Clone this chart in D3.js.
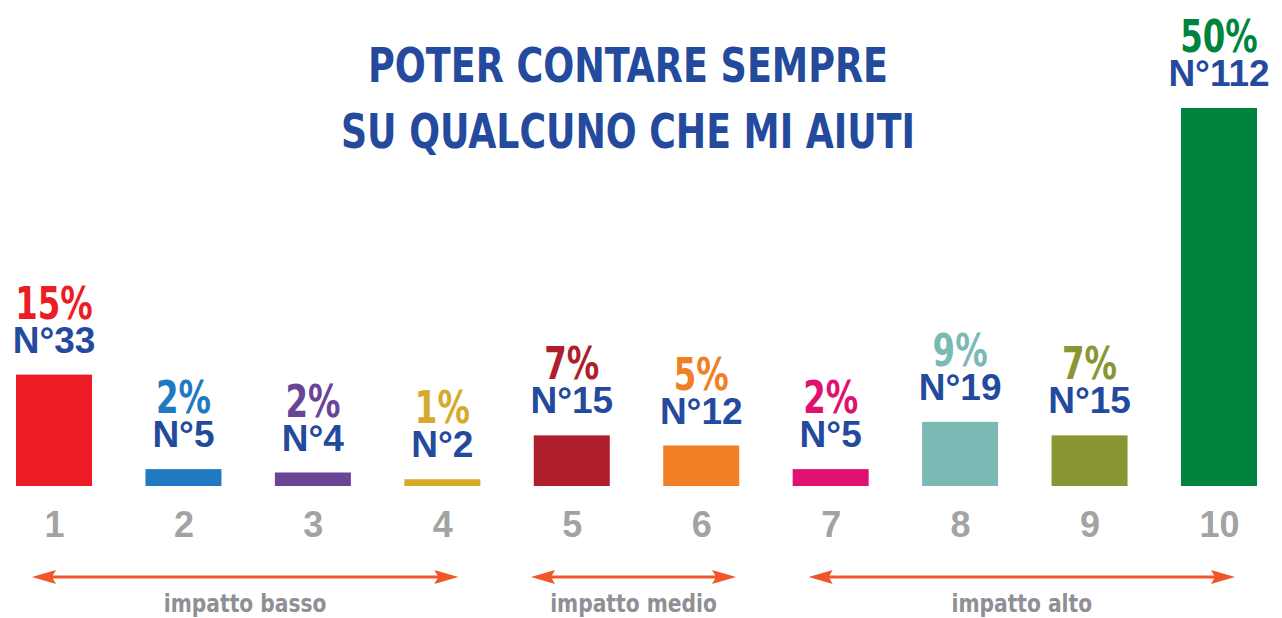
<!DOCTYPE html>
<html>
<head>
<meta charset="utf-8">
<script src="https://cdn.jsdelivr.net/npm/d3@7"></script>
<style>
  html, body { margin: 0; padding: 0; background: #fff; }
  svg { display: block; }
</style>
</head>
<body>
<svg id="chart" width="1282" height="618"></svg>
<script>
// Scale of 1-10: share of answers and number of respondents
const categories = ["1", "2", "3", "4", "5", "6", "7", "8", "9", "10"];
const percents   = [15, 2, 2, 1, 7, 5, 2, 9, 7, 50];
const counts     = [33, 5, 4, 2, 15, 12, 5, 19, 15, 112];
const barColors  = ["#ed1c24", "#2179c1", "#6a4596", "#d6aa2a", "#b01e2b",
                    "#f07f26", "#e0126f", "#7bb9b5", "#8a9633", "#00843d"];
const titleLines = ["POTER CONTARE SEMPRE", "SU QUALCUNO CHE MI AIUTI"];
const groupLabels = ["impatto basso", "impatto medio", "impatto alto"];
const groupFrom   = ["1", "5", "7"];
const groupTo     = ["4", "6", "10"];

const svg = d3.select("#chart");

const NARROW = "'Liberation Sans Narrow', 'DejaVu Sans Condensed', 'Arial Narrow', sans-serif";
const WIDE = "'Liberation Sans', Arial, sans-serif";
const BLUE = "#234a9c";

// Squeeze a text horizontally to a fraction of its natural width
function condense(sel, f) {
  sel.each(function () {
    const len = this.getComputedTextLength();
    d3.select(this).attr("textLength", len * f).attr("lengthAdjust", "spacingAndGlyphs");
  });
}

const x = d3.scalePoint().domain(categories).range([54, 1219]);
const barW = 76;
const y = d3.scaleLinear().domain([0, 112]).range([486, 108]);

// Title
svg.append("g").selectAll("text").data(titleLines).join("text")
  .attr("x", 628)
  .attr("y", (d, i) => 82 + i * 66)
  .attr("text-anchor", "middle")
  .attr("font-family", NARROW)
  .attr("font-weight", "bold")
  .attr("font-size", 48)
  .attr("fill", BLUE)
  .attr("textLength", (d, i) => i === 0 ? 520 : 574)
  .attr("lengthAdjust", "spacingAndGlyphs")
  .text(d => d);

const data = categories.map((c, i) => ({ c, p: percents[i], n: counts[i], color: barColors[i] }));

// Bars
svg.append("g").selectAll("rect").data(data).join("rect")
  .attr("x", d => x(d.c) - barW / 2)
  .attr("y", d => y(d.n))
  .attr("width", barW)
  .attr("height", d => y(0) - y(d.n))
  .attr("fill", d => d.color);

// Value labels: percentage and count above each bar
const lab = svg.append("g").selectAll("g").data(data).join("g")
  .attr("transform", d => `translate(${x(d.c)},${y(d.n) - 22})`);

lab.append("text")
  .attr("y", -34)
  .attr("text-anchor", "middle")
  .attr("font-family", NARROW)
  .attr("font-weight", "bold")
  .attr("font-size", 45)
  .attr("fill", d => d.color)
  .text(d => d.p + "%")
  .call(condense, 0.8);

lab.append("text")
  .attr("y", 0)
  .attr("text-anchor", "middle")
  .attr("font-family", WIDE)
  .attr("font-weight", "bold")
  .attr("font-size", 37)
  .attr("fill", BLUE)
  .text(d => "N°" + d.n);

// Category axis
const axis = d3.axisBottom(x).tickSize(0).tickPadding(0);
const ax = svg.append("g").attr("transform", "translate(0,511)").call(axis);
ax.select(".domain").remove();
ax.selectAll("text")
  .attr("dy", "0.72em")
  .attr("font-family", WIDE)
  .attr("font-weight", "bold")
  .attr("font-size", 36)
  .attr("fill", "#a3a3a3");

// Impact groups: double arrows with captions
const ARROW = "#f1562a";
const arrowY = 577;
const groups = groupLabels.map((g, i) => {
  let x0 = x(groupFrom[i]) - 22, x1 = x(groupTo[i]) + 16;
  const minLen = 205;
  if (x1 - x0 < minLen) {
    const m = (x0 + x1) / 2;
    x0 = m - minLen / 2; x1 = m + minLen / 2;
  }
  return { label: g, x0, x1 };
});

const gg = svg.append("g").selectAll("g").data(groups).join("g");
gg.append("line")
  .attr("x1", d => d.x0 + 10).attr("x2", d => d.x1 - 10)
  .attr("y1", arrowY).attr("y2", arrowY)
  .attr("stroke", ARROW).attr("stroke-width", 3);

const head = (tipX, dir) => {
  const L = 24, h = 7, back = 4;
  return `M${tipX},${arrowY} L${tipX + dir * L},${arrowY - h} L${tipX + dir * (L - back)},${arrowY} L${tipX + dir * L},${arrowY + h} Z`;
};
gg.append("path").attr("d", d => head(d.x0, 1)).attr("fill", ARROW);
gg.append("path").attr("d", d => head(d.x1, -1)).attr("fill", ARROW);

gg.append("text")
  .attr("x", d => (d.x0 + d.x1) / 2)
  .attr("y", 612)
  .attr("text-anchor", "middle")
  .attr("font-family", NARROW)
  .attr("font-weight", "bold")
  .attr("font-size", 25)
  .attr("fill", "#8f9095")
  .text(d => d.label)
  .call(condense, 0.9);
</script>
</body>
</html>
